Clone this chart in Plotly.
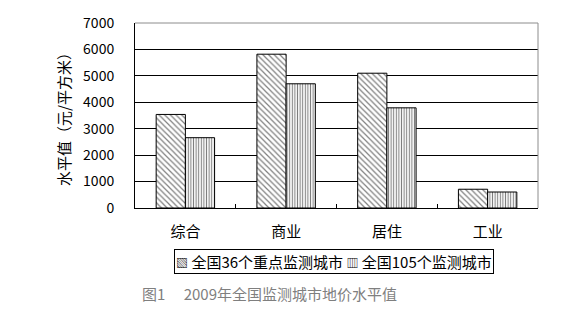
import plotly.graph_objects as go

categories = ["综合", "商业", "居住", "工业"]
series_names = ["全国36个重点监测城市", "全国105个监测城市"]
values_36 = [3540, 5820, 5100, 710]
values_105 = [2660, 4700, 3790, 605]
y_ticks = [0, 1000, 2000, 3000, 4000, 5000, 6000, 7000]
y_title = "水平值（元/平方米）"
caption = "图1　 2009年全国监测城市地价水平值"
legend_marks = ["▧", "▥"]

FONT = "Noto Sans CJK SC"

fig = go.Figure()
fig.add_trace(go.Bar(
    name=series_names[0], x=categories, y=values_36,
    marker=dict(color="white", line=dict(color="black", width=1),
                pattern=dict(shape="\\", fgcolor="black", bgcolor="white", size=4, solidity=0.3)),
))
fig.add_trace(go.Bar(
    name=series_names[1], x=categories, y=values_105,
    marker=dict(color="white", line=dict(color="black", width=1),
                pattern=dict(shape="|", fgcolor="black", bgcolor="white", size=2.6, solidity=0.4)),
))

mark = "<span style='font-size:12px'>{}</span>"
legend_text = (mark.format(legend_marks[0]) + " " + series_names[0] + " "
               + mark.format(legend_marks[1]) + " " + series_names[1])

fig.update_layout(
    width=569, height=311,
    margin=dict(l=135, r=31, t=15, b=103),
    paper_bgcolor="white", plot_bgcolor="white",
    barmode="group", bargap=0.42, bargroupgap=0,
    font=dict(family=FONT, size=14, color="black"),
    showlegend=False,
    annotations=[
        dict(text=legend_text, xref="paper", yref="paper", x=0.494, y=-0.290,
             xanchor="center", yanchor="middle", showarrow=False,
             bordercolor="black", borderwidth=1, borderpad=1, bgcolor="white",
             font=dict(family=FONT, size=15, color="black")),
        dict(text=caption, xref="paper", yref="paper", x=0.012, y=-0.461,
             xanchor="left", yanchor="middle", showarrow=False,
             font=dict(family=FONT, size=15, color="#7f7f7f")),
    ],
    shapes=[
        dict(type="line", xref="paper", yref="paper", x0=0, x1=1, y0=1, y1=1,
             line=dict(color="#8c8c8c", width=1), layer="above"),
        dict(type="line", xref="paper", yref="paper", x0=1, x1=1, y0=0, y1=1,
             line=dict(color="#8c8c8c", width=1), layer="above"),
    ],
)
fig.update_xaxes(showline=True, linecolor="black", linewidth=1, ticks="inside",
                 tickson="boundaries", ticklen=4, tickcolor="black",
                 tickfont=dict(size=15), showgrid=False, ticklabelstandoff=10)
fig.update_yaxes(range=[0, 7000], tickvals=y_ticks, showline=True, linecolor="black",
                 linewidth=1, showgrid=True, gridcolor="black", gridwidth=1,
                 zeroline=False, ticks="", ticklabelstandoff=17,
                 tickfont=dict(size=14),
                 title=dict(text=y_title, font=dict(size=15), standoff=8))

fig.write_html("out.html")
